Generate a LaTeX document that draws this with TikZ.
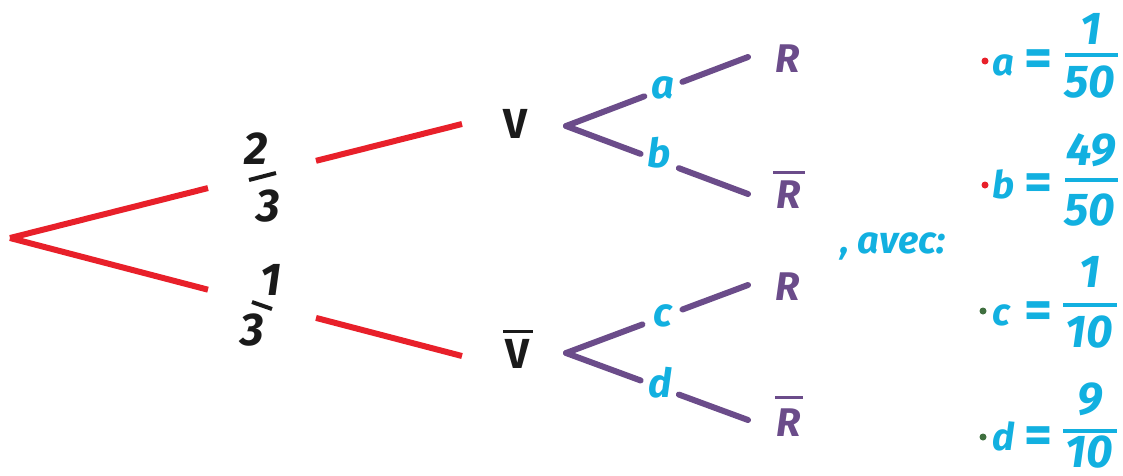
\documentclass[tikz,border=0pt]{standalone}
\usepackage{fontspec}
\setmainfont{Fira Sans}
\usetikzlibrary{calc}
\definecolor{cred}{HTML}{E8202A}
\definecolor{cpurple}{HTML}{6B4C8A}
\definecolor{ccyan}{HTML}{12B0E0}
\definecolor{cgreen}{HTML}{3F6F3F}
\definecolor{cblack}{HTML}{1A1A1A}
\tikzset{
  redline/.style={cred,line width=6pt},
  purpline/.style={cpurple,line width=6pt,line cap=round},
  hand/.style={font=\fontsize{40}{40}\selectfont\bfseries\itshape,inner sep=0pt},
  handup/.style={font=\fontsize{42}{42}\selectfont\bfseries,inner sep=0pt},
  digit/.style={font=\fontsize{46}{46}\selectfont\bfseries\itshape,inner sep=0pt},
  eqs/.style={font=\fontsize{54}{54}\selectfont\bfseries,inner sep=0pt,text=ccyan},
  blk/.style={digit,text=cblack},
  pur/.style={hand,text=cpurple},
  cyn/.style={hand,text=ccyan},
  cynd/.style={digit,text=ccyan,anchor=base},
  cynl/.style={font=\fontsize{38}{38}\selectfont\bfseries\itshape,inner sep=0pt,text=ccyan,anchor=base west},
  fbar/.style={ccyan,line width=4pt},
  kbar/.style={cblack,line width=4pt},
  kover/.style={cblack,line width=3pt},
  pover/.style={cpurple,line width=3pt},
  bullet/.style={circle,inner sep=0pt,minimum size=7pt},
}
\begin{document}
\begin{tikzpicture}[x=1pt,y=-1pt]
\useasboundingbox (0,0) rectangle (1123,475);
% first level
\coordinate (root) at (10,238);
\coordinate (Ve) at (462,124);
\coordinate (Vbe) at (462,356);
\node[handup,text=cblack] (V) at (515,124) {V};
\node[handup,text=cblack] (Vb) at (517,354) {V};
\coordinate (ov1) at (503,331); \coordinate (ov2) at (533,331);
\draw[kover] (ov1) -- (ov2);
\draw[redline] (root) -- ($(root)!0.438!(Ve)$);
\draw[redline] ($(root)!0.677!(Ve)$) -- (Ve);
\draw[redline] (root) -- ($(root)!0.438!(Vbe)$);
\draw[redline] ($(root)!0.677!(Vbe)$) -- (Vbe);
% fractions 2/3 and 1/3
\node[blk] (n2) at (256,149) {2};
\coordinate (b2a) at (249,180);
\coordinate (b2b) at (276,173);
\draw[kbar] (b2a) -- (b2b);
\node[blk] (d3) at (268,206) {3};
\node[blk] (n1) at (271,280) {1};
\coordinate (b1a) at (252,302);
\coordinate (b1b) at (272,309);
\draw[kbar] (b1a) -- (b1b);
\node[blk] (d3b) at (252,330) {3};
% second level (upper)
\coordinate (Vs) at (566,126);
\coordinate (R1e) at (748,57);
\coordinate (R1be) at (748,194);
\node[pur] (R1) at (788,59) {R};
\node[pur] (R1b) at (789,195) {R};
\coordinate (or1) at (773,172); \coordinate (or2) at (805,172);
\draw[pover] (or1) -- (or2);
\draw[purpline] (Vs) -- ($(Vs)!0.43!(R1e)$);
\draw[purpline] ($(Vs)!0.64!(R1e)$) -- (R1e);
\draw[purpline] (Vs) -- ($(Vs)!0.41!(R1be)$);
\draw[purpline] ($(Vs)!0.62!(R1be)$) -- (R1be);
\node[cyn] (la) at (663,88) {a};
\node[cyn] (lb) at (659,153) {b};
% second level (lower)
\coordinate (Vbs) at (566,353);
\coordinate (R2e) at (748,285);
\coordinate (R2be) at (748,420);
\node[pur] (R2) at (788,287) {R};
\node[pur] (R2b) at (789,423) {R};
\coordinate (oq1) at (775,397); \coordinate (oq2) at (803,397);
\draw[pover] (oq1) -- (oq2);
\draw[purpline] (Vbs) -- ($(Vbs)!0.42!(R2e)$);
\draw[purpline] ($(Vbs)!0.64!(R2e)$) -- (R2e);
\draw[purpline] (Vbs) -- ($(Vbs)!0.41!(R2be)$);
\draw[purpline] ($(Vbs)!0.62!(R2be)$) -- (R2be);
\node[cyn] (lc) at (663,316) {c};
\node[cyn] (ld) at (660,383) {d};
% avec
\node[cynl] (avec) at (840,253) {, avec:};
% definitions
\node[bullet,fill=cred] (pa) at (985,61) {};
\node[cynl] (da) at (992,75) {a};
\node[eqs] (ea) at (1038,63) {=};
\node[cynd] (na) at (1091,44) {1};
\coordinate (fa1) at (1065,55); \coordinate (fa2) at (1118,55);
\draw[fbar] (fa1) -- (fa2);
\node[cynd] (ma) at (1090,97) {50};
\node[bullet,fill=cred] (pb) at (985,185) {};
\node[cynl] (db) at (992,198) {b};
\node[eqs] (eb) at (1038,187) {=};
\node[cynd] (nb) at (1091,165) {49};
\coordinate (fb1) at (1065,180); \coordinate (fb2) at (1118,180);
\draw[fbar] (fb1) -- (fb2);
\node[cynd] (mb) at (1090,225) {50};
\node[bullet,fill=cgreen] (pc) at (983,311) {};
\node[cynl] (dc) at (992,325) {c};
\node[eqs] (ec) at (1038,315) {=};
\node[cynd] (nc) at (1090,287) {1};
\coordinate (fc1) at (1063,305); \coordinate (fc2) at (1117,305);
\draw[fbar] (fc1) -- (fc2);
\node[cynd] (mc) at (1089,347) {10};
\node[bullet,fill=cgreen] (pd) at (983,437) {};
\node[cynl] (dd) at (992,450) {d};
\node[eqs] (ed) at (1038,440) {=};
\node[cynd] (nd) at (1090,414) {9};
\coordinate (fd1) at (1063,431); \coordinate (fd2) at (1117,431);
\draw[fbar] (fd1) -- (fd2);
\node[cynd] (md) at (1089,467) {10};
\end{tikzpicture}
\end{document}
